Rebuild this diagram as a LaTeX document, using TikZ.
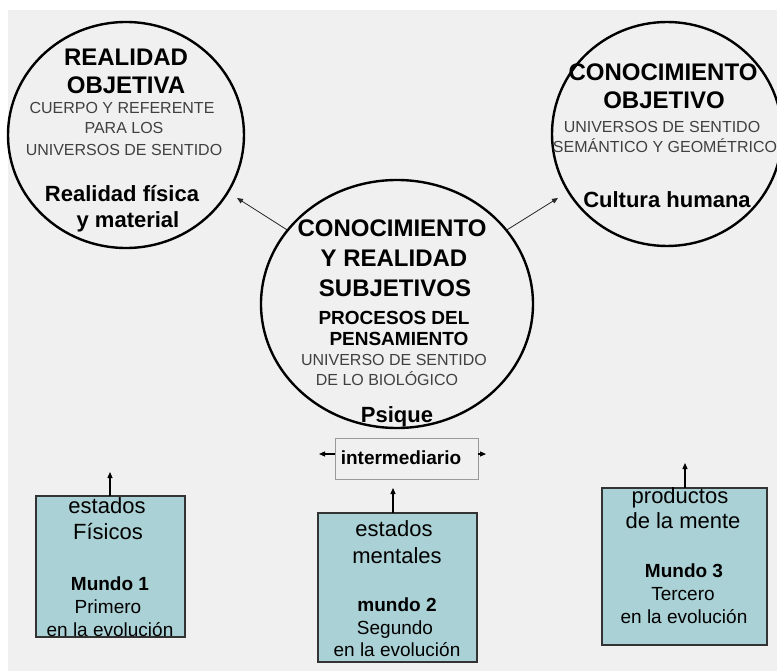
\documentclass[tikz,border=0pt]{standalone}
\usepackage{fontspec}
\setmainfont{Liberation Sans}
\usetikzlibrary{shapes.geometric,arrows.meta}
\definecolor{bgray}{HTML}{F0F0F0}
\definecolor{boxfill}{HTML}{AAD1D5}
\definecolor{capgray}{HTML}{404040}
\definecolor{boxline}{HTML}{333333}
\begin{document}
\begin{tikzpicture}[x=1pt,y=-1pt,
  every node/.style={inner sep=0pt, outer sep=0pt},
  world/.style={draw=black, line width=2.4pt, ellipse},
  wbox/.style={draw=boxline, line width=1.2pt, fill=boxfill, rectangle},
  ibox/.style={draw=black!40, line width=1pt, fill=bgray, rectangle},
  hd/.style={font=\fontsize{24}{24}\selectfont\bfseries, text height=17pt, text depth=0pt},
  bd/.style={font=\fontsize{22}{22}\selectfont\bfseries, text height=16pt, text depth=0pt},
  sb/.style={font=\fontsize{19}{19}\selectfont\bfseries, text height=14pt, text depth=0pt},
  cp/.style={font=\fontsize{16}{16}\selectfont, text=capgray, text height=11.5pt, text depth=0pt},
  bxa/.style={font=\fontsize{22}{22}\selectfont, text height=16pt, text depth=0pt},
  bxb/.style={font=\fontsize{19}{19}\selectfont, text height=14pt, text depth=0pt},
  bxc/.style={font=\fontsize{19}{19}\selectfont\bfseries, text height=14pt, text depth=0pt},
  arr/.style={-{Triangle[length=6pt,width=5pt]}, line width=0.8pt, draw=black!85},
  uarr/.style={-{Triangle[length=6pt,width=5pt]}, line width=1.1pt, draw=black}
]
\useasboundingbox (0,0) rectangle (777,671);
\fill[white] (0,0) rectangle (777,671);
\fill[bgray] (8,10) rectangle (777,671);

% circles
\node[world, minimum width=236pt, minimum height=226pt] (real) at (126,135) {};
\node[world, minimum width=272pt, minimum height=248pt] (subj) at (397,304) {};
\node[world, minimum width=230pt, minimum height=224pt] (obj) at (667,134) {};

% left circle texts
\node[hd] (r1) at (126,57) {REALIDAD};
\node[hd] (r2) at (126,85) {OBJETIVA};
\node[cp] (r3) at (122,108) {CUERPO Y REFERENTE};
\node[cp] (r4) at (124,128) {PARA LOS};
\node[cp] (r5) at (124,150) {UNIVERSOS DE SENTIDO};
\node[bd] (r6) at (122,194) {Realidad física};
\node[bd] (r7) at (128,220) {y material};

% right circle texts
\node[hd] (o1) at (663,72) {CONOCIMIENTO};
\node[hd] (o2) at (664,100) {OBJETIVO};
\node[cp] (o3) at (662,127) {UNIVERSOS DE SENTIDO};
\node[cp] (o4) at (665,147) {SEMÁNTICO Y GEOMÉTRICO};
\node[bd] (o5) at (667,200) {Cultura humana};

% central circle texts
\node[hd] (s1) at (392,228) {CONOCIMIENTO};
\node[hd] (s2) at (394,258) {Y REALIDAD};
\node[hd] (s3) at (395,288) {SUBJETIVOS};
\node[sb] (s4) at (394,317) {PROCESOS DEL};
\node[sb] (s5) at (399,338) {PENSAMIENTO};
\node[cp] (s6) at (394,360) {UNIVERSO DE SENTIDO};
\node[cp] (s7) at (387,380) {DE LO BIOLÓGICO};
\node[bd] (s8) at (397,414) {Psique};

% intermediario
\node[ibox, minimum width=143pt, minimum height=41pt] (inter) at (406.5,458.5) {};
\node[sb] (it) at (401,457) {intermediario};

% boxes
\node[wbox, minimum width=149pt, minimum height=141pt] (box1) at (110.5,566.5) {};
\node[wbox, minimum width=159pt, minimum height=149pt] (box2) at (397.5,587.5) {};
\node[wbox, minimum width=165pt, minimum height=157pt] (box3) at (684.5,566.5) {};

\node[bxa] (a1) at (107,505) {estados};
\node[bxa] (a2) at (108,531) {Físicos};
\node[bxc] (a3) at (110,583) {Mundo 1};
\node[bxb] (a4) at (108,606) {Primero};
\node[bxb] (a5) at (110,629) {en la evolución};

\node[bxa] (b1) at (394,528) {estados};
\node[bxa] (b2) at (397,555) {mentales};
\node[bxc] (b3) at (397,604) {mundo 2};
\node[bxb] (b4) at (395,627) {Segundo};
\node[bxb] (b5) at (397,649) {en la evolución};

\node[bxa] (c1) at (680,495) {productos};
\node[bxa] (c2) at (683,520) {de la mente};
\node[bxc] (c3) at (684,570) {Mundo 3};
\node[bxb] (c4) at (683,593) {Tercero};
\node[bxb] (c5) at (684,616) {en la evolución};

% connectors
\coordinate (tipL) at (237,198);
\coordinate (tipR) at (558,198);
\draw[arr] (subj.146) -- (tipL);
\draw[arr] (subj.34) -- (tipR);
\coordinate (t1) at (110,472);
\coordinate (t2) at (393,488);
\coordinate (t3) at (685,463);
\draw[uarr] (t1 |- box1.north) -- (t1);
\draw[uarr] (t2 |- box2.north) -- (t2);
\draw[uarr] (t3 |- box3.north) -- (t3);
\coordinate (il) at (319,454);
\coordinate (ir) at (486,454);
\draw[uarr] (il -| inter.west) -- (il);
\draw[uarr] (ir -| inter.east) -- (ir);
\end{tikzpicture}
\end{document}
